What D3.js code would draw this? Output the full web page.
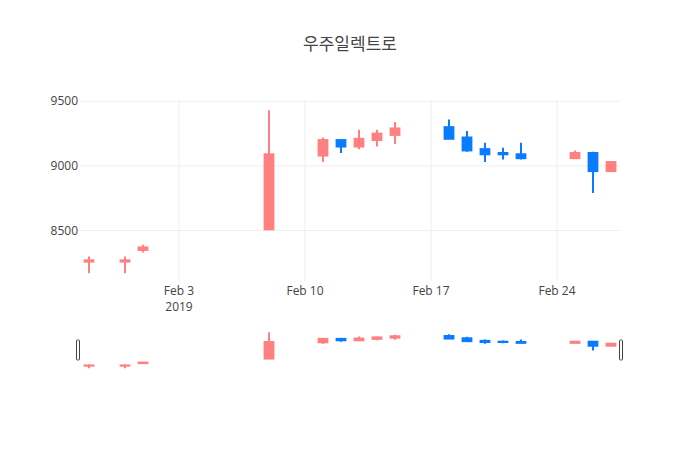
<!DOCTYPE html>
<html>
<head>
<meta charset="utf-8">
<script src="https://cdn.jsdelivr.net/npm/d3@7"></script>
<style>
  body { margin: 0; background: #fff; }
  svg { font-family: "Open Sans", "Noto Sans CJK KR", sans-serif; }
</style>
</head>
<body>
<script>
let w = 700;
let h = 450;

let title = "우주일렉트로";
let dates = ["2019-01-29", "2019-01-31", "2019-02-01", "2019-02-08", "2019-02-11",
             "2019-02-12", "2019-02-13", "2019-02-14", "2019-02-15", "2019-02-18",
             "2019-02-19", "2019-02-20", "2019-02-21", "2019-02-22", "2019-02-25",
             "2019-02-26", "2019-02-27"];
let open  = [8260, 8260, 8350, 8510, 9080, 9200, 9150, 9200, 9240, 9300, 9220, 9130, 9100, 9090, 9060, 9100, 8960];
let high  = [8300, 8300, 8390, 9430, 9220, 9200, 9280, 9280, 9340, 9360, 9270, 9180, 9140, 9180, 9120, 9110, 9030];
let low   = [8170, 8170, 8330, 8510, 9030, 9100, 9130, 9150, 9170, 9210, 9110, 9030, 9050, 9050, 9060, 8790, 8960];
let close = [8270, 8270, 8370, 9090, 9200, 9150, 9210, 9250, 9290, 9210, 9120, 9090, 9090, 9060, 9100, 8960, 9030];
let yTicks = [8500, 9000, 9500];
let xTicks = ["2019-02-03", "2019-02-10", "2019-02-17", "2019-02-24"];
let yearLabel = "2019";

let upColor = "#ff8080";
let downColor = "#0a7bff";

let parse = d3.utcParse("%Y-%m-%d");
let data = dates.map(function(d, i) {
    return {date: parse(d), o: open[i], h: high[i], l: low[i], c: close[i]};
});

let pLeft = 80, pRight = 620, pTop = 100, pBottom = 281;
let sTop = 330, sBottom = 370;

let xScale = d3.scaleUtc()
               .domain([d3.utcHour.offset(parse("2019-01-28"), 12), d3.utcHour.offset(parse("2019-02-27"), 12)])
               .range([pLeft, pRight]);
let yScale = d3.scaleLinear()
               .domain([8110, 9510])
               .range([pBottom, pTop]);
let ySlider = d3.scaleLinear()
               .domain([8110, 9510])
               .range([sBottom, sTop]);

let bodyW = (xScale(parse("2019-02-02")) - xScale(parse("2019-02-01"))) * 0.6;

let svg = d3.select("body")
            .append("svg")
            .attr("width", w)
            .attr("height", h);

// grid
let grid = svg.append("g");
grid.selectAll("line.hy")
    .data(yTicks)
    .enter()
    .append("line")
    .attr("x1", pLeft).attr("x2", pRight)
    .attr("y1", function(d) { return yScale(d); })
    .attr("y2", function(d) { return yScale(d); })
    .attr("stroke", "#eee");
grid.selectAll("line.vx")
    .data(xTicks)
    .enter()
    .append("line")
    .attr("x1", function(d) { return xScale(parse(d)); })
    .attr("x2", function(d) { return xScale(parse(d)); })
    .attr("y1", pTop).attr("y2", pBottom)
    .attr("stroke", "#eee");

// axis labels
svg.selectAll("text.ylab")
   .data(yTicks)
   .enter()
   .append("text")
   .text(function(d) { return d; })
   .attr("x", pLeft - 2)
   .attr("y", function(d) { return yScale(d) + 4; })
   .attr("text-anchor", "end")
   .attr("font-size", "12px")
   .attr("fill", "#444");

let fmt = d3.utcFormat("%b %-d");
svg.selectAll("text.xlab")
   .data(xTicks)
   .enter()
   .append("text")
   .text(function(d) { return fmt(parse(d)); })
   .attr("x", function(d) { return xScale(parse(d)); })
   .attr("y", pBottom + 14)
   .attr("text-anchor", "middle")
   .attr("font-size", "12px")
   .attr("fill", "#444");
svg.append("text")
   .text(yearLabel)
   .attr("x", xScale(parse(xTicks[0])))
   .attr("y", pBottom + 30)
   .attr("text-anchor", "middle")
   .attr("font-size", "12px")
   .attr("fill", "#444");

function drawCandles(g, ys) {
    let c = g.selectAll("g")
             .data(data)
             .enter()
             .append("g")
             .attr("fill", function(d) { return d.c >= d.o ? upColor : downColor; })
             .attr("stroke", function(d) { return d.c >= d.o ? upColor : downColor; })
             .attr("stroke-width", 2);
    c.append("line")
     .attr("x1", function(d) { return xScale(d.date); })
     .attr("x2", function(d) { return xScale(d.date); })
     .attr("y1", function(d) { return ys(d.h); })
     .attr("y2", function(d) { return ys(d.l); });
    c.append("rect")
     .attr("x", function(d) { return xScale(d.date) - bodyW / 2 + 1; })
     .attr("width", bodyW - 2)
     .attr("y", function(d) { return ys(Math.max(d.o, d.c)); })
     .attr("height", function(d) { return Math.abs(ys(d.o) - ys(d.c)); });
}

drawCandles(svg.append("g"), yScale);
drawCandles(svg.append("g"), ySlider);

// range slider handles
let sh = sBottom - sTop;
svg.selectAll("rect.handle")
   .data([pLeft - 2, pRight + 1])
   .enter()
   .append("rect")
   .attr("x", function(d) { return d - 1.5; })
   .attr("y", sTop + sh / 4)
   .attr("width", 3)
   .attr("height", sh / 2)
   .attr("rx", 1)
   .attr("fill", "#fff")
   .attr("stroke", "#444")
   .attr("stroke-width", 1);

svg.append("text")
   .text(title)
   .attr("x", w / 2)
   .attr("y", 50)
   .attr("text-anchor", "middle")
   .attr("font-size", "17px")
   .attr("fill", "#444");
</script>
</body>
</html>
